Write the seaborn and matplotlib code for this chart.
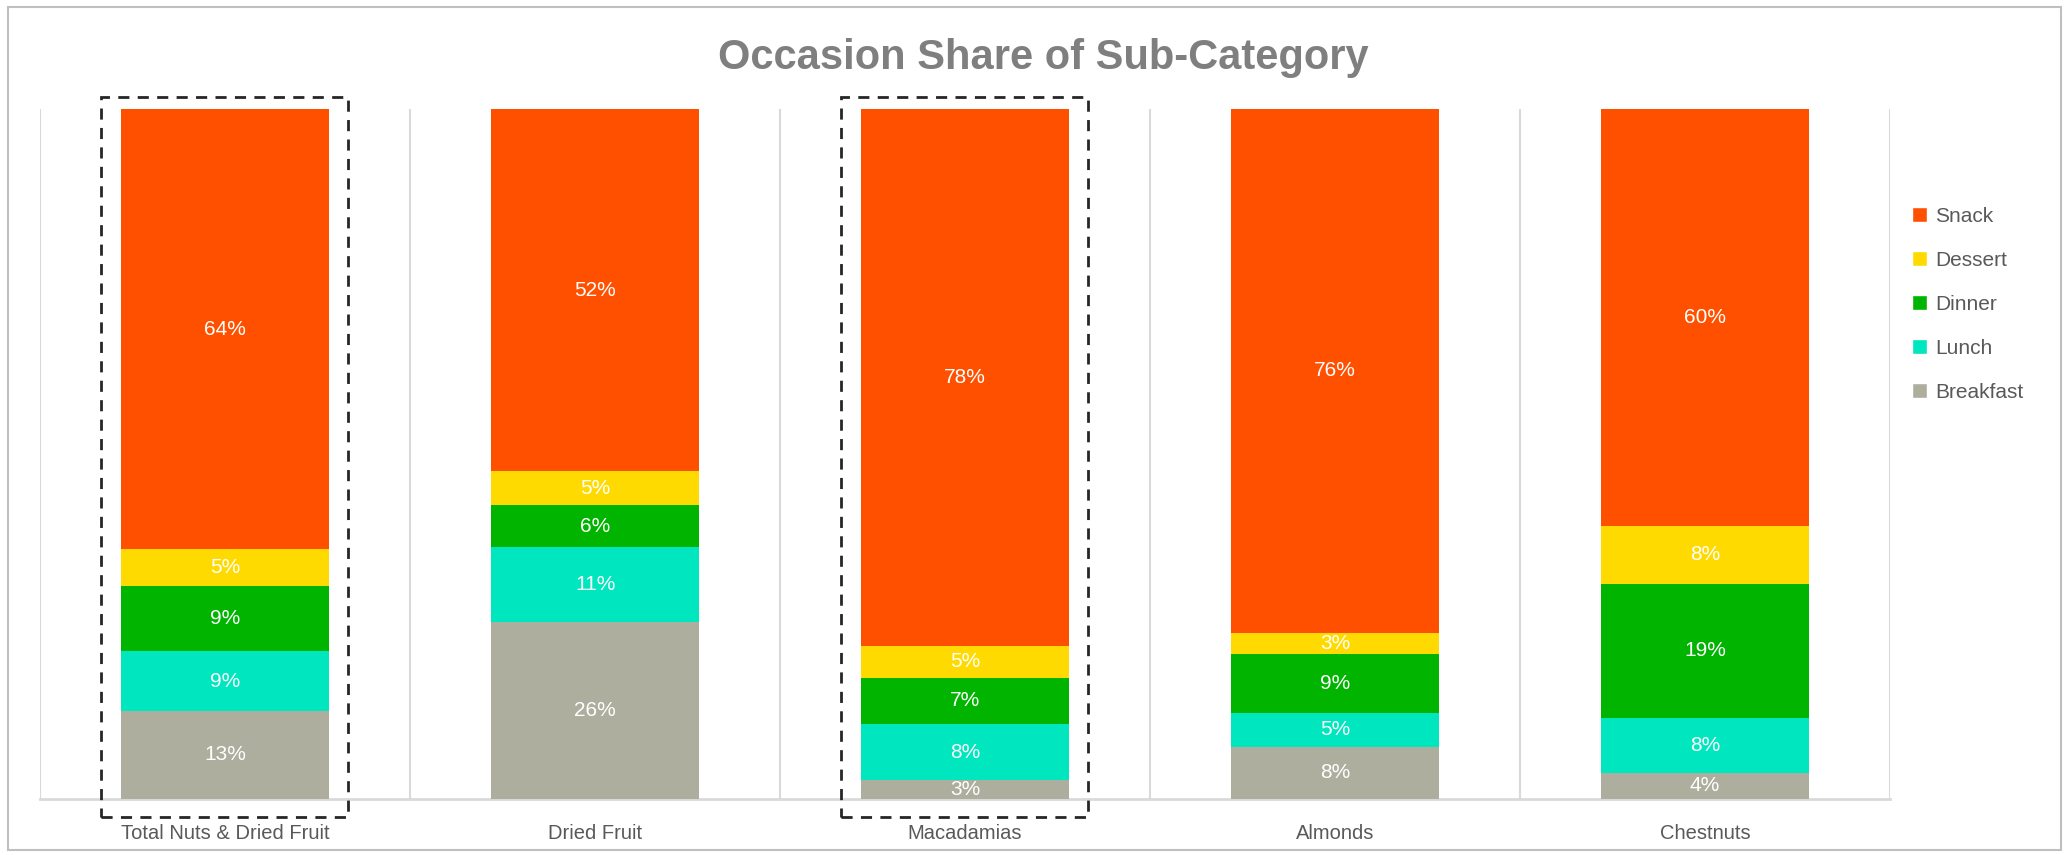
import numpy as np
import pandas as pd
import matplotlib
matplotlib.use('Agg')
import matplotlib.pyplot as plt
from matplotlib.patches import Rectangle, Patch
import seaborn as sns

# ── Data (share of occasions, %) ─────────────────────────────────
categories = ['Total Nuts & Dried Fruit', 'Dried Fruit', 'Macadamias', 'Almonds', 'Chestnuts']
occasions  = ['Breakfast', 'Lunch', 'Dinner', 'Dessert', 'Snack']
breakfast  = [12.8, 25.6, 2.7, 7.6, 3.8]
lunch      = [8.6, 10.9, 8.2, 4.8, 8.0]
dinner     = [9.4, 6.1, 6.7, 8.6, 19.4]
dessert    = [5.4, 4.9, 4.6, 3.1, 8.4]
snack      = [63.8, 52.5, 77.8, 75.9, 60.4]
highlighted = ['Total Nuts & Dried Fruit', 'Macadamias']

colors = {
    'Snack':     '#FF5000',
    'Dessert':   '#FFDA00',
    'Dinner':    '#00B400',
    'Lunch':     '#00E6BE',
    'Breakfast': '#ADAE9D',
}

df = pd.DataFrame({'category': categories, 'Breakfast': breakfast, 'Lunch': lunch,
                   'Dinner': dinner, 'Dessert': dessert, 'Snack': snack})

sns.set_style('white')
plt.rcParams['font.family'] = ['Liberation Sans', 'DejaVu Sans']

fig = plt.figure(figsize=(20.67, 8.55), dpi=100)
ax = fig.add_axes([0.0194, 0.0655, 0.8950, 0.807])

# stacked bars: draw cumulative totals from the top layer down
cum = df[occasions].cumsum(axis=1)
for occ in occasions[::-1]:
    sns.barplot(x=df['category'], y=cum[occ], color=colors[occ], width=0.56,
                linewidth=0, saturation=1, ax=ax, zorder=3)

# value labels in the middle of each segment
for i, cat in enumerate(categories):
    base = 0
    for occ in occasions:
        v = df.loc[i, occ]
        ax.text(i, base + v / 2, f'{v:.0f}%', ha='center', va='center',
                color='white', fontsize=15, zorder=5)
        base += v

ax.set_ylim(0, 100)
ax.set_xlim(-0.5, 4.5)
ax.set_yticks([])
ax.set_xlabel('')
ax.set_ylabel('')
for b in np.arange(-0.5, 5, 1):
    ax.axvline(b, color='#d9d9d9', lw=1.5, zorder=1)
for s in ['top', 'left', 'right']:
    ax.spines[s].set_visible(False)
ax.spines['bottom'].set_color('#d9d9d9')
ax.spines['bottom'].set_linewidth(2)
ax.tick_params(axis='x', length=0, pad=18, labelsize=14.5, labelcolor='#595959')

# dashed boxes around highlighted categories
for cat in highlighted:
    i = categories.index(cat)
    ax.add_patch(Rectangle((i - 0.336, -2.6), 0.668, 104.3, fill=False,
                           edgecolor='#262626', lw=2, ls=(0, (4, 3)),
                           clip_on=False, zorder=6))

fig.suptitle('Occasion Share of Sub-Category', x=0.5046, y=0.955, fontsize=30,
             fontweight='bold', color='#7f7f7f')

handles = [Patch(facecolor=colors[o], label=o) for o in occasions[::-1]]
leg = fig.legend(handles=handles, loc='upper left', bbox_to_anchor=(0.916, 0.78),
                 frameon=False, fontsize=15, handlelength=0.7, handleheight=0.7,
                 handletextpad=0.4, labelspacing=1.2)
for t in leg.get_texts():
    t.set_color('#595959')

fig.add_artist(Rectangle((0.004, 0.006), 0.993, 0.986, transform=fig.transFigure,
                         fill=False, edgecolor='#bfbfbf', lw=1.5))

plt.savefig('out.png', dpi=100)
